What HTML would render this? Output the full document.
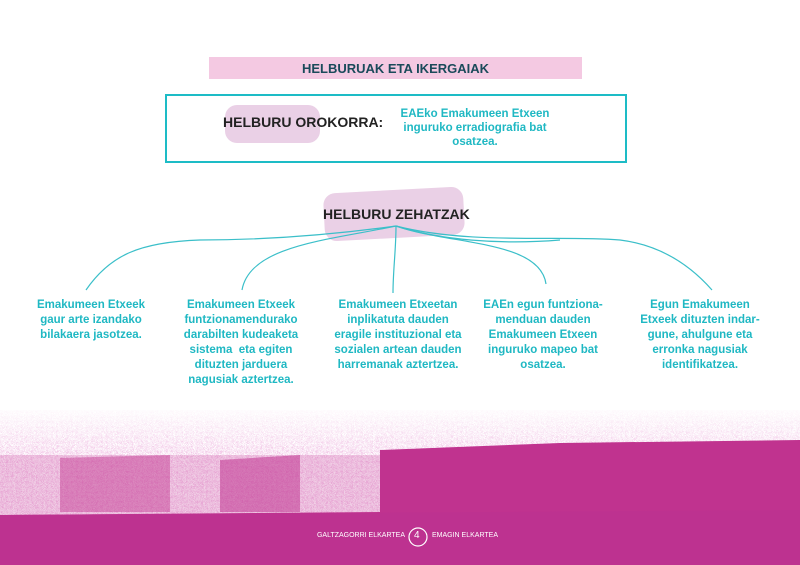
<!DOCTYPE html>
<html><head><meta charset="utf-8"><style>
body{margin:0;width:800px;height:565px;overflow:hidden;background:#fff;font-family:"Liberation Sans",sans-serif;position:relative}
.a{position:absolute}
.t{color:#1fb8c3;font-size:11.5px;line-height:15px;text-align:center;position:absolute;width:150px;font-weight:bold}
</style></head><body>
<svg class="a" style="left:0;top:0" width="800" height="565">
<defs>
<filter id="n" x="0" y="0" width="1" height="1"><feTurbulence baseFrequency="0.9" numOctaves="2" seed="3"/><feColorMatrix values="0 0 0 0 0.75 0 0 0 0 0.2 0 0 0 0 0.57 0 0 0 -3 1.2"/></filter>
<linearGradient id="g" x1="0" y1="0" x2="0" y2="1"><stop offset="0" stop-color="#fff" stop-opacity="1"/><stop offset="1" stop-color="#fff" stop-opacity="0"/></linearGradient>
</defs>
<rect x="0" y="410" width="800" height="110" filter="url(#n)" opacity="0.45"/>
<rect x="0" y="405" width="800" height="50" fill="url(#g)"/>
<rect x="0" y="455" width="800" height="60" fill="#c7439a" opacity="0.25"/>
<polygon points="380,450 560,443 800,440 800,565 0,565 0,515 380,512" fill="#c0338f"/>
<polygon points="60,458 170,455 170,512 60,512" fill="#c0338f" opacity="0.45"/>
<polygon points="220,460 300,455 300,512 220,512" fill="#c0338f" opacity="0.55"/>
<polygon points="0,515 800,510 800,565 0,565" fill="#bd3290"/>
<rect x="209" y="57" width="373" height="22" fill="#f4c9e2"/>
<rect x="166" y="95" width="460" height="67" fill="none" stroke="#1dbcc6" stroke-width="2"/>
<rect x="225" y="105" width="95" height="38" rx="12" fill="#ead0e6"/>
<rect x="324" y="190" width="140" height="48" rx="12" fill="#ead0e6" transform="rotate(-3 394 214)"/>
<g fill="none" stroke="#3bbfc9" stroke-width="1.2">
<path d="M396,226 C330,235 260,240 200,240 C140,242 110,255 86,290"/>
<path d="M396,226 C330,240 250,245 242,290"/>
<path d="M396,226 C396,250 393,270 393,293"/>
<path d="M396,226 C450,245 540,240 546,284"/>
<path d="M396,226 C470,245 560,235 620,240 C660,245 690,265 712,290"/>
<path d="M396,226 C440,240 500,245 560,240"/>
</g>
<circle cx="418" cy="537" r="9" fill="none" stroke="#fff" stroke-width="1.2"/>
</svg>
<div class="a" style="left:209px;top:61px;width:373px;text-align:center;font-size:13px;color:#1a4a5a;font-weight:bold">HELBURUAK ETA IKERGAIAK</div>
<div class="a" style="left:223px;top:114px;font-size:14px;color:#222;font-weight:bold">HELBURU OROKORRA:</div>
<div class="t" style="left:395px;top:107px;width:160px;font-size:11.5px;line-height:14px">EAEko Emakumeen Etxeen inguruko erradiografia bat osatzea.</div>
<div class="a" style="left:323px;top:206px;font-size:14px;color:#222;font-weight:bold">HELBURU ZEHATZAK</div>
<div class="t" style="left:16px;top:298px">Emakumeen Etxeek<br>gaur arte izandako<br>bilakaera jasotzea.</div>
<div class="t" style="left:166px;top:298px">Emakumeen Etxeek<br>funtzionamendurako<br>darabilten kudeaketa<br>sistema &nbsp;eta egiten<br>dituzten jarduera<br>nagusiak aztertzea.</div>
<div class="t" style="left:318px;top:298px;width:160px">Emakumeen Etxeetan<br>inplikatuta dauden<br>eragile instituzional eta<br>sozialen artean dauden<br>harremanak aztertzea.</div>
<div class="t" style="left:468px;top:298px">EAEn egun funtziona-<br>menduan dauden<br>Emakumeen Etxeen<br>inguruko mapeo bat<br>osatzea.</div>
<div class="t" style="left:625px;top:298px">Egun Emakumeen<br>Etxeek dituzten indar-<br>gune, ahulgune eta<br>erronka nagusiak<br>identifikatzea.</div>
<div class="a" style="left:300px;top:532px;width:105px;text-align:right;font-size:7px;color:#fff">GALTZAGORRI ELKARTEA</div>
<div class="a" style="left:414px;top:530px;font-size:10px;color:#fff">4</div>
<div class="a" style="left:432px;top:532px;font-size:7px;color:#fff">EMAGIN ELKARTEA</div>
</body></html>
